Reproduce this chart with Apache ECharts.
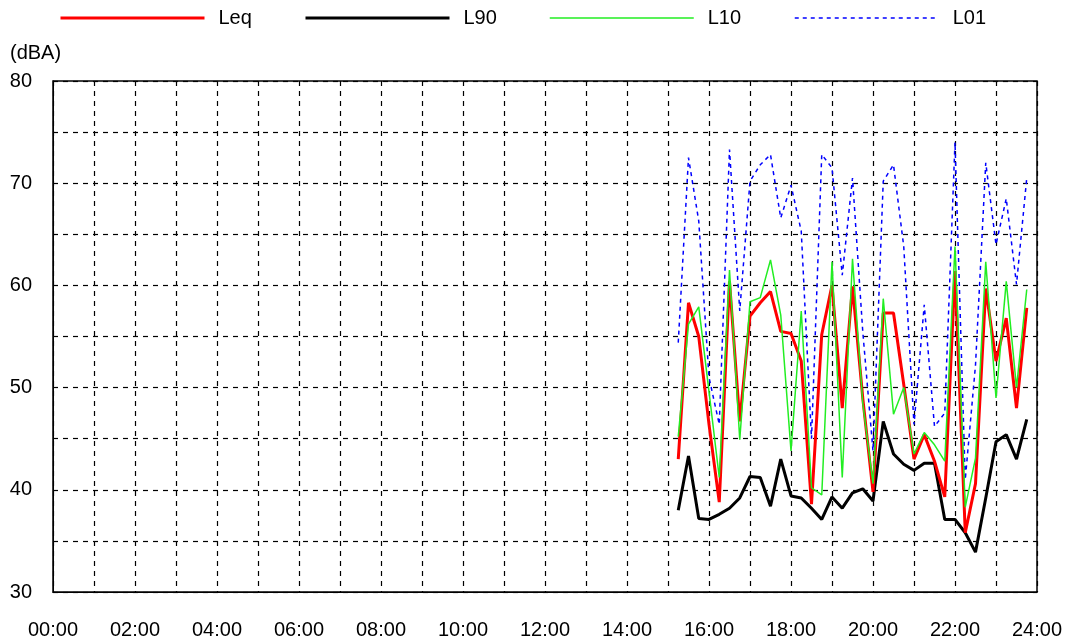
<!DOCTYPE html>
<html>
<head>
<meta charset="utf-8">
<script src="https://cdn.jsdelivr.net/npm/echarts@6/dist/echarts.min.js"></script>
<style>
html,body{margin:0;padding:0;background:#fff;}
#chart{width:1068px;height:644px;}
</style>
</head>
<body>
<div id="chart"></div>
<script>
var times = ['15:15','15:30','15:45','16:00','16:15','16:30','16:45','17:00','17:15','17:30','17:45','18:00',
  '18:15','18:30','18:45','19:00','19:15','19:30','19:45','20:00','20:15','20:30','20:45','21:00',
  '21:15','21:30','21:45','22:00','22:15','22:30','22:45','23:00','23:15','23:30','23:45'];
var leq = [43.0,58.3,55.0,46.4,38.8,60.4,46.7,57.0,58.3,59.4,55.5,55.3,
  52.6,38.6,55.2,60.0,48.0,59.9,49.0,39.8,57.3,57.3,50.3,43.0,
  45.4,42.8,39.3,61.4,35.8,40.6,59.7,52.6,56.8,48.0,57.8];
var l90 = [38.0,43.3,37.2,37.1,37.6,38.2,39.2,41.3,41.2,38.4,43.0,39.4,
  39.2,38.2,37.1,39.3,38.2,39.7,40.1,38.9,46.7,43.5,42.5,41.9,
  42.6,42.6,37.1,37.1,35.8,33.9,39.2,44.7,45.4,43.0,46.9];
var l10 = [45.2,56.2,57.9,49.6,41.2,61.5,44.9,58.4,58.8,62.5,57.1,43.8,
  57.5,40.2,39.5,62.3,41.2,62.6,48.5,40.6,58.7,47.4,50.0,43.5,
  45.6,44.4,42.8,63.8,38.3,43.1,62.3,49.0,60.4,50.0,59.6];
var l01 = [54.4,72.5,66.3,51.0,46.4,73.3,57.5,70.2,71.8,72.8,66.6,69.8,
  65.3,45.0,72.8,71.5,61.0,70.5,55.5,43.8,70.2,71.8,63.8,46.4,
  58.1,46.2,47.5,74.0,41.0,52.2,72.0,64.0,68.5,60.1,70.5];
var xTickLabels = ['00:00','02:00','04:00','06:00','08:00','10:00','12:00','14:00','16:00','18:00','20:00','22:00','24:00'];
var yTickLabels = ['30','40','50','60','70','80'];
var seriesNames = ['Leq','L90','L10','L01'];

function toHours(t){ var p=t.split(':'); return (+p[0]) + (+p[1])/60; }
function pairs(vals){ return vals.map(function(v,i){ return [toHours(times[i]), v]; }); }

var FONT = '"Liberation Sans", Arial, sans-serif';
var chart = echarts.init(document.getElementById('chart'), null, {renderer:'canvas'});

function legendFor(name, left, color, width, type){
  return {
    data:[name], left:left, top:3, itemWidth:144, itemHeight:14,
    itemStyle:{opacity:0},
    lineStyle:{color:color, width:width, type:type},
    textStyle:{fontFamily:FONT, fontSize:20, color:'#000', padding:[0,0,0,9]},
    selectedMode:false
  };
}

chart.setOption({
  animation:false,
  backgroundColor:'#fff',
  legend:[
    legendFor('Leq',54,'#ff0000',3,'solid'),
    legendFor('L90',299,'#000000',3,'solid'),
    legendFor('L10',544,'#22ee22',1.5,'solid'),
    legendFor('L01',789,'#0000ff',1.5,[4,4])
  ],
  grid:{left:53, right:31, top:81, bottom:52, show:true, borderColor:'#000', borderWidth:1.5, backgroundColor:'#fff'},
  graphic:[{type:'text', left:10, top:43, style:{text:'(dBA)', font:'20px ' + FONT, fill:'#000'}}],
  xAxis:{
    type:'value', min:0, max:24, interval:1,
    axisLine:{show:true, lineStyle:{color:'#000', width:1}},
    axisTick:{show:false},
    axisLabel:{margin:28, fontFamily:FONT, fontSize:20, color:'#000', showMinLabel:true, showMaxLabel:true,
      formatter:function(v){ return (v % 2 === 0) ? xTickLabels[v/2] : ''; }},
    splitLine:{show:true, lineStyle:{color:'#000', width:1.2, type:[5,5]}}
  },
  yAxis:{
    type:'value', min:30, max:80, interval:5,
    axisLine:{show:true, lineStyle:{color:'#000', width:1}},
    axisTick:{show:false},
    axisLabel:{margin:21, fontFamily:FONT, fontSize:20, color:'#000',
      formatter:function(v){ return (v % 10 === 0) ? yTickLabels[(v-30)/10] : ''; }},
    splitLine:{show:true, lineStyle:{color:'#000', width:1.2, type:[5,5]}}
  },
  series:[
    {name:seriesNames[0], type:'line', data:pairs(leq), symbol:'none', color:'#ff0000',
     lineStyle:{color:'#ff0000', width:3}, z:4},
    {name:seriesNames[1], type:'line', data:pairs(l90), symbol:'none', color:'#000000',
     lineStyle:{color:'#000000', width:3}, z:3},
    {name:seriesNames[2], type:'line', data:pairs(l10), symbol:'none', color:'#22ee22',
     lineStyle:{color:'#22ee22', width:1.5}, z:5},
    {name:seriesNames[3], type:'line', data:pairs(l01), symbol:'none', color:'#0000ff',
     lineStyle:{color:'#0000ff', width:1.5, type:[4,4]}, z:2}
  ]
});
</script>
</body>
</html>
